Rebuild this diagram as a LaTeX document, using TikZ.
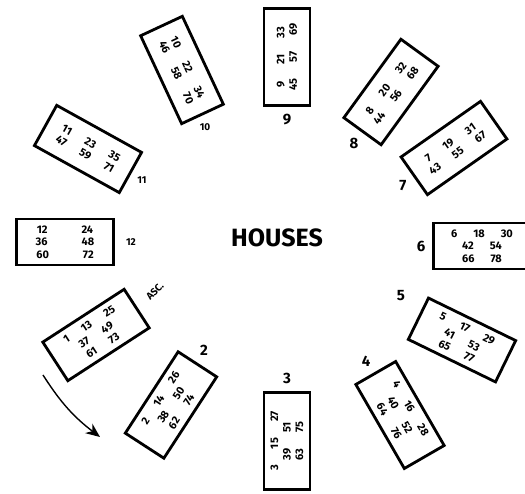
\documentclass[tikz,border=0pt]{standalone}
\usepackage{fontspec}
\setmainfont{Fira Sans}
\usetikzlibrary{arrows.meta}
\newcommand{\numgap}{\hspace{16pt}}
\tikzset{
  every picture/.style={line width=1.2pt},
  house/.style={draw, line width=2.8pt, minimum width=97pt, minimum height=46pt, inner sep=2pt,
    align=center, font=\fontsize{11}{12.5}\selectfont\bfseries},
  lbl/.style={font=\fontsize{15}{17}\selectfont\bfseries},
  small/.style={font=\fontsize{10}{12}\selectfont\bfseries},
  arrow/.style={-{Stealth[length=5mm, width=4.2mm]}, line width=1.4pt},
  title/.style={font=\fontsize{25}{28}\selectfont\bfseries},
}

\begin{document}
\begin{tikzpicture}[x=1pt, y=1pt]
  \useasboundingbox (0,0) rectangle (525,494);
  % houses
  \foreach \n/\x/\y/\a/\t in {
    9/287/437/90/{9\numgap 21\numgap 33\\45\numgap 57\numgap 69},
    10/182/424/-65/{10\numgap 22\numgap 34\\46\numgap 58\numgap 70},
    11/88/345/-29/{11\numgap 23\numgap 35\\47\numgap 59\numgap 71},
    12/65/252/0/{12\hspace{34pt}24\\36\hspace{34pt}48\\60\hspace{34pt}72},
    1/96/159/33/{1\numgap 13\numgap 25\\37\numgap 49\\61\numgap 73},
    2/171/89/57/{2\numgap 14\numgap 26\\38\numgap 50\\62\numgap 74},
    3/287/53/90/{3\numgap 15\numgap 27\\39\numgap 51\\63\numgap 75},
    4/400/79/-60/{4\numgap 16\numgap 28\\40\numgap 52\\64\numgap 76},
    5/462/154/-26/{5\numgap 17\numgap 29\\41\numgap 53\\65\numgap 77},
    6/482/248/0/{6\numgap 18\numgap 30\\42\numgap 54\\66\numgap 78},
    7/454/346/35/{7\numgap 19\numgap 31\\43\numgap 55\numgap 67},
    8/391/402/54/{8\numgap 20\numgap 32\\44\numgap 56\numgap 68}}
    \node[house, rotate=\a] (h\n) at (\x,\y) {\t};
  % house numbers
  \foreach \n/\x/\y in {9/287/374, 2/204/144, 3/287/116, 4/366/133, 5/401/198, 6/421/248, 7/403/308, 8/354/351}
    \node[lbl] (l\n) at (\x,\y) {\n};
  \node[small] (l10) at (205,367) {10};
  \node[small] (l11) at (142,314) {11};
  \node[small] (l12) at (131,252) {12};
  \node[small, rotate=45] (asc) at (155,203) {ASC.};
  \node[title] (houses) at (277,256) {HOUSES};
  % direction
  \coordinate (s) at (43,119);
  \coordinate (e) at (100,57);
  \draw[arrow] (s) to[bend right=10] (e);
\end{tikzpicture}
\end{document}
